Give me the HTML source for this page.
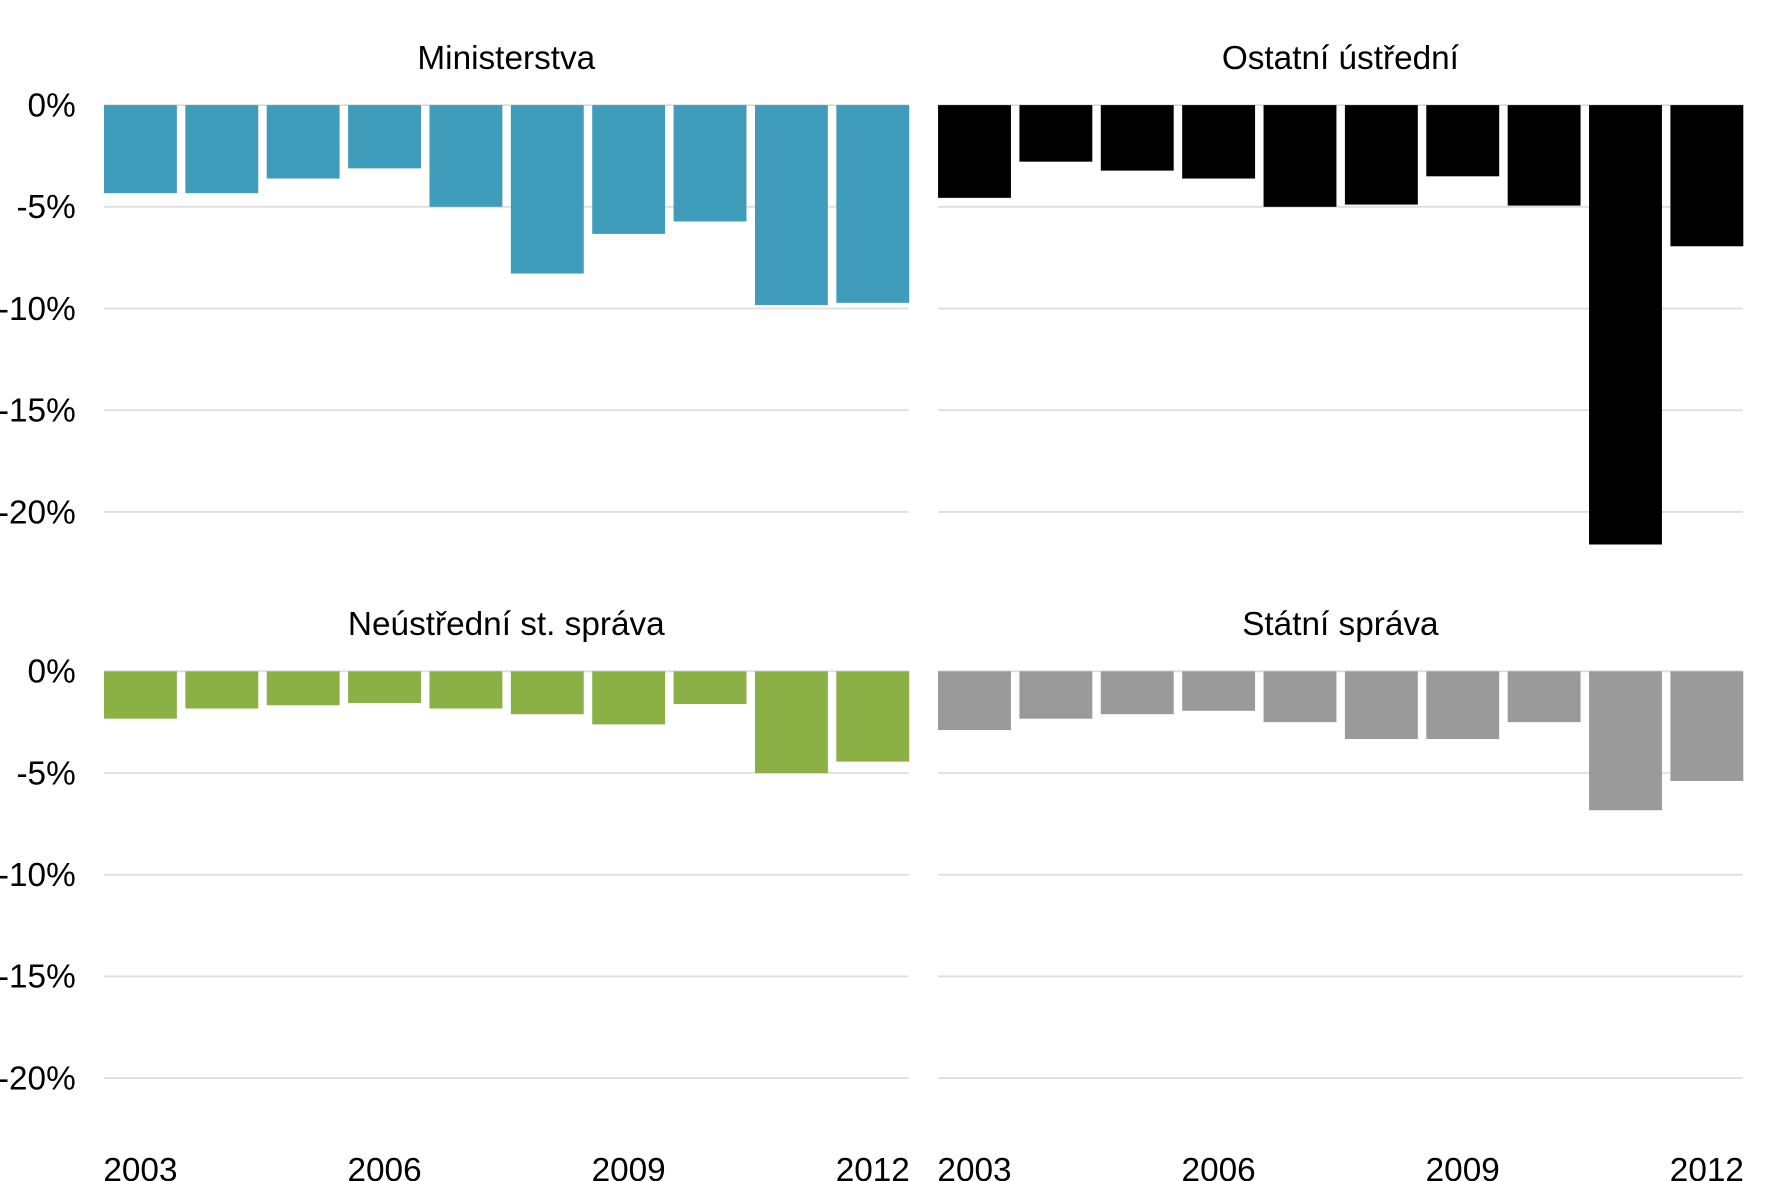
<!DOCTYPE html>
<html><head><meta charset="utf-8"><style>
html,body{margin:0;padding:0;background:#fff;}
svg{display:block;font-family:"Liberation Sans",Arial,sans-serif;}
</style></head><body>
<svg id="chart" width="1771" height="1181" viewBox="0 0 1567 1045" preserveAspectRatio="none" xmlns="http://www.w3.org/2000/svg"></svg>
<script>
const years = [2003,2004,2005,2006,2007,2008,2009,2010,2011,2012];
const ministerstva = [-4.33,-4.33,-3.61,-3.11,-5.0,-8.28,-6.33,-5.72,-9.83,-9.72];
const ostatni = [-4.56,-2.78,-3.22,-3.61,-5.0,-4.89,-3.5,-4.94,-21.6,-6.94];
const neustredni = [-2.33,-1.83,-1.67,-1.56,-1.83,-2.11,-2.61,-1.61,-5.0,-4.44];
const statni = [-2.89,-2.33,-2.11,-1.94,-2.5,-3.33,-3.33,-2.5,-6.83,-5.39];
const yTicks = [0,-5,-10,-15,-20];
const yTickLabels = ["0%","-5%","-10%","-15%","-20%"];
const xTickYears = [2003,2006,2009,2012];
const panelTitles = ["Ministerstva","Ostatní ústřední","Neústřední st. správa","Státní správa"];

const NS="http://www.w3.org/2000/svg";
const svg=document.getElementById('chart');
function mk(tag,attrs,parent){const e=document.createElementNS(NS,tag);for(const k in attrs)e.setAttribute(k,attrs[k]);(parent||svg).appendChild(e);return e;}

const panels=[
 {data:ministerstva,color:"#3f9cba",x0:92,y0:93,title:panelTitles[0],name:"ministerstva"},
 {data:ostatni,color:"#000000",x0:830,y0:93,title:panelTitles[1],name:"ostatni-ustredni"},
 {data:neustredni,color:"#8bb046",x0:92,y0:594,title:panelTitles[2],name:"neustredni-sprava"},
 {data:statni,color:"#9a9a9a",x0:830,y0:594,title:panelTitles[3],name:"statni-sprava"}
];
const W=712, step=72, bw=64.5, pxPerPct=18, FS=29.5;

panels.forEach((p,pi)=>{
  const g=mk('g',{});
  
  
  const yScale=v=>p.y0 - v*pxPerPct;
  const xScale=i=>p.x0 + i*step;
  yTicks.forEach((t,i)=>{
    const l=mk('line',{x1:p.x0,x2:p.x0+W,y1:yScale(t),y2:yScale(t),stroke:"#dedede","stroke-width":1.6},g);
    
    
    if(pi%2===0){
      const tx=mk('text',{x:67,y:yScale(t)+10,"text-anchor":"end","font-size":FS,fill:"#000"},g);
      tx.textContent=yTickLabels[i];
      
      
    }
  });
  const ti=mk('text',{x:p.x0+W/2,y:p.y0-32,"text-anchor":"middle","font-size":FS,fill:"#000"},g);
  ti.textContent=p.title;
  
  
  p.data.forEach((v,i)=>{
    const y0=yScale(0), y1=yScale(v);
    const r=mk('rect',{x:xScale(i),y:Math.min(y0,y1),width:bw,height:Math.abs(y1-y0),fill:p.color},g);
    
    
  });
  if(pi>=2){
    xTickYears.forEach(yr=>{
      const i=years.indexOf(yr);
      const tx=mk('text',{x:xScale(i)+bw/2,y:1045,"text-anchor":"middle","font-size":FS,fill:"#000"},g);
      tx.textContent=String(yr);
      
      
    });
  }
});
</script>
</body></html>
